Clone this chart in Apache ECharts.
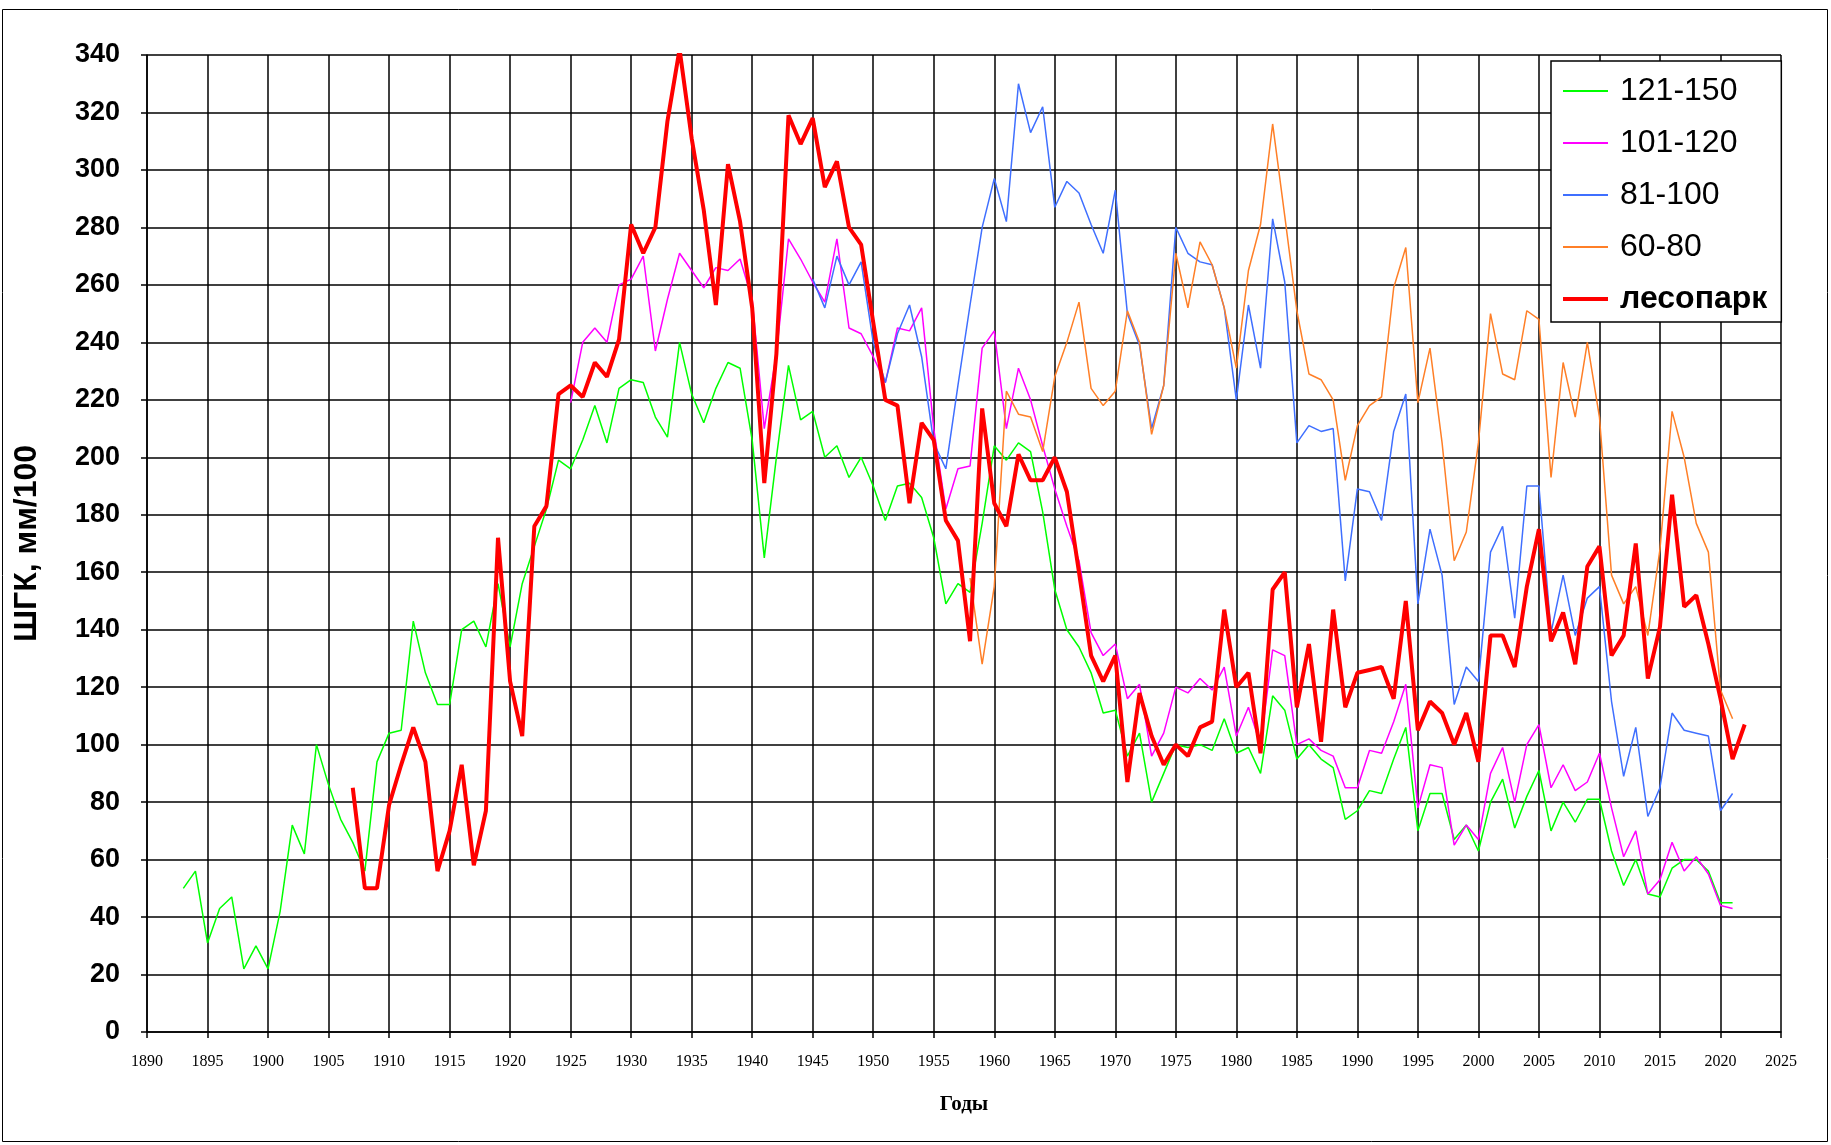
<!DOCTYPE html>
<html>
<head>
<meta charset="utf-8">
<script src="https://cdn.jsdelivr.net/npm/echarts@6/dist/echarts.min.js"></script>
<style>
  html, body { margin: 0; padding: 0; background: #fff; }
  #chart { width: 1831px; height: 1145px; }
</style>
</head>
<body>
<div id="chart"></div>
<script>
// series names, first year of each series and yearly values
const names = ['121-150', '101-120', '81-100', '60-80', 'лесопарк'];

const greenStart = 1893;
const green = [50, 56, 31, 43, 47, 22, 30, 22, 42, 72, 62, 100, 86, 74, 66, 56, 94, 104, 105, 143,
  125, 114, 114, 140, 143, 134, 156, 134, 156, 169, 182, 199, 196, 206, 218, 205, 224, 227, 226, 214,
  207, 240, 222, 212, 224, 233, 231, 206, 165, 200, 232, 213, 216, 200, 204, 193, 200, 190, 178, 190,
  191, 186, 172, 149, 156, 153, 177, 204, 199, 205, 202, 181, 154, 140, 134, 125, 111, 112, 96, 104,
  80, 90, 100, 99, 100, 98, 109, 97, 99, 90, 117, 112, 95, 100, 95, 92, 74, 77, 84, 83,
  95, 106, 70, 83, 83, 67, 72, 63, 80, 88, 71, 82, 91, 70, 80, 73, 81, 81, 63, 51,
  60, 48, 47, 57, 60, 60, 56, 45, 45];

const magentaStart = 1925;
const magenta = [219, 240, 245, 240, 260, 262, 270, 237, 255, 271, 265, 259, 266, 265, 269, 255, 210, 236, 276, 269,
  261, 254, 276, 245, 243, 235, 226, 245, 244, 252, 210, 182, 196, 197, 238, 244, 210, 231, 220, 204,
  189, 176, 164, 139, 131, 135, 116, 121, 96, 104, 120, 118, 123, 119, 127, 103, 113, 100, 133, 131,
  100, 102, 98, 96, 85, 85, 98, 97, 108, 121, 78, 93, 92, 65, 72, 67, 90, 99, 80, 100,
  107, 85, 93, 84, 87, 97, 78, 61, 70, 48, 53, 66, 56, 61, 55, 44, 43];

const blueStart = 1945;
const blue = [262, 252, 270, 260, 268, 240, 226, 243, 253, 235, 205, 196, 225, 253, 280, 297, 282, 330, 313, 322,
  287, 296, 292, 281, 271, 293, 250, 239, 210, 225, 280, 271, 268, 267, 252, 220, 253, 231, 283, 261,
  205, 211, 209, 210, 157, 189, 188, 178, 209, 222, 149, 175, 159, 114, 127, 122, 167, 176, 144, 190,
  190, 139, 159, 138, 151, 155, 115, 89, 106, 75, 85, 111, 105, 104, 103, 77, 83];

const orangeStart = 1958;
const orange = [158, 128, 155, 223, 215, 214, 202, 228, 240, 254, 224, 218, 223, 251, 240, 208, 225, 271, 252, 275,
  267, 252, 231, 265, 281, 316, 284, 251, 229, 227, 220, 192, 211, 218, 221, 259, 273, 219, 238, 205,
  164, 174, 205, 250, 229, 227, 251, 248, 193, 233, 214, 240, 214, 159, 149, 155, 138, 168, 216, 200,
  177, 167, 119, 109];

const redStart = 1907;
const red = [85, 50, 50, 79, 93, 106, 94, 56, 70, 93, 58, 77, 172, 122, 103, 176, 183, 222, 225, 221,
  233, 228, 241, 281, 271, 280, 317, 342, 311, 286, 253, 302, 282, 252, 191, 236, 319, 309, 318, 294,
  303, 280, 274, 247, 220, 218, 184, 212, 206, 178, 171, 136, 217, 184, 176, 201, 192, 192, 200, 188,
  160, 131, 122, 131, 87, 118, 103, 93, 100, 96, 106, 108, 147, 120, 125, 97, 154, 160, 113, 135,
  101, 147, 113, 125, 126, 127, 116, 150, 105, 115, 111, 100, 111, 94, 138, 138, 127, 155, 175, 136,
  146, 128, 162, 169, 131, 138, 170, 123, 141, 187, 148, 152, 135, 116, 95, 107];

function pairs(start, values) {
  return values.map(function (v, i) { return [start + i, v]; });
}

const chart = echarts.init(document.getElementById('chart'), null, { renderer: 'canvas' });

function lineSeries(name, start, values, color, width) {
  return {
    name: name,
    type: 'line',
    data: pairs(start, values),
    symbol: 'none',
    clip: true,
    lineStyle: { color: color, width: width },
    itemStyle: { color: color }
  };
}

chart.setOption({
  animation: false,
  backgroundColor: '#fff',
  grid: { left: 147, top: 55, width: 1634, height: 977 },
  xAxis: {
    type: 'value',
    min: 1890, max: 2025, interval: 5,
    name: 'Годы',
    nameLocation: 'middle',
    nameGap: 62,
    nameTextStyle: { fontFamily: 'Liberation Serif', fontWeight: 'bold', fontSize: 21, color: '#000' },
    axisLine: { lineStyle: { color: '#000', width: 1.5 } },
    axisTick: { show: true, length: 6, lineStyle: { color: '#000', width: 1.5 } },
    axisLabel: {
      fontFamily: 'Liberation Serif', fontSize: 16, color: '#000', margin: 22,
      formatter: function (v) { return String(v); }
    },
    splitLine: { show: true, lineStyle: { color: '#000', width: 1.5 } }
  },
  yAxis: {
    type: 'value',
    min: 0, max: 340, interval: 20,
    name: 'ШГК, мм/100',
    nameLocation: 'middle',
    nameGap: 104,
    nameTextStyle: { fontFamily: 'Liberation Sans', fontWeight: 'bold', fontSize: 32, color: '#000' },
    axisLine: { show: true, lineStyle: { color: '#000', width: 1.5 } },
    axisTick: { show: true, length: 6, lineStyle: { color: '#000', width: 1.5 } },
    axisLabel: { fontFamily: 'Liberation Sans', fontWeight: 'bold', fontSize: 27, color: '#000', margin: 27 },
    splitLine: { show: true, lineStyle: { color: '#000', width: 1.5 } }
  },
  legend: {
    orient: 'vertical',
    left: 1551, top: 61,
    data: names.map(function (n) {
      return n === 'лесопарк' ? { name: n, lineStyle: { width: 4 } } : { name: n };
    }),
    padding: [12, 14, 5, 10],
    itemGap: 16,
    itemWidth: 45,
    itemHeight: 14,
    itemStyle: { opacity: 0 },
    backgroundColor: '#fff',
    borderColor: '#000',
    borderWidth: 1.5,
    textStyle: {
      fontFamily: 'Liberation Sans', fontSize: 32, color: '#000', lineHeight: 36,
      padding: [0, 0, 0, 7],
      rich: { b: { fontFamily: 'Liberation Sans', fontWeight: 'bold', fontSize: 32, lineHeight: 36, color: '#000' } }
    },
    formatter: function (name) { return name === 'лесопарк' ? '{b|' + name + '}' : name; }
  },
  graphic: [{
    type: 'rect',
    shape: { x: 2.5, y: 9.5, width: 1825, height: 1132 },
    style: { fill: 'none', stroke: '#000', lineWidth: 1 },
    silent: true, z: -1
  }],
  series: [
    lineSeries(names[0], greenStart, green, '#00ff00', 1.5),
    lineSeries(names[1], magentaStart, magenta, '#ff00ff', 1.5),
    lineSeries(names[2], blueStart, blue, '#3f6fff', 1.5),
    lineSeries(names[3], orangeStart, orange, '#ff7f27', 1.5),
    lineSeries(names[4], redStart, red, '#ff0000', 4)
  ]
});
</script>
</body>
</html>
